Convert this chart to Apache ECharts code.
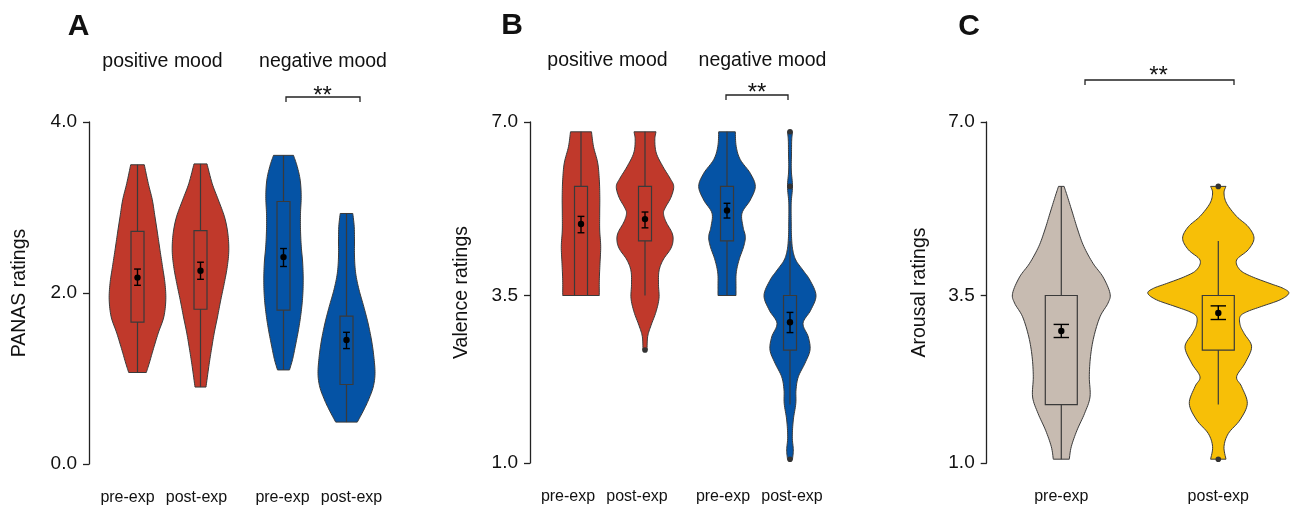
<!DOCTYPE html>
<html><head><meta charset="utf-8">
<script src="https://cdn.jsdelivr.net/npm/echarts@6/dist/echarts.min.js"></script>
<style>html,body{margin:0;padding:0;background:#fff}#c{width:1296px;height:508px}</style>
</head><body><div id="c"></div>
<script>
// ================= DATA =================
const conditions = ['pre-exp', 'post-exp'];
const moodGroups = ['positive mood', 'negative mood'];
const panelLetters = ['A', 'B', 'C'];
const axisNames = ['PANAS ratings', 'Valence ratings', 'Arousal ratings'];
const ticksA = [0, 2, 4];
const tickLabelsA = ['0.0', '2.0', '4.0'];
const ticks7 = [0.93, 4, 7.18];
const tickLabels7 = ['1.0', '3.5', '7.0'];
const sigLabel = '**';

// violin outlines: [rating, density (half-width)] from top to bottom
const kdeA_posPre  = [[3.50,6.8],[3.28,10.8],[3.09,14.8],[2.89,17.5],[2.70,20.0],[2.50,22.5],[2.31,25.0],[2.11,27.5],[1.92,28.3],[1.72,26.3],[1.53,20.7],[1.33,15.5],[1.18,11.8],[1.07,8.8]];
const kdeA_posPost = [[3.51,6.5],[3.28,11.7],[3.09,17.8],[2.89,24.0],[2.70,27.3],[2.50,28.3],[2.31,26.8],[2.11,23.7],[1.92,20.3],[1.72,17.0],[1.53,13.7],[1.33,10.8],[1.14,8.3],[0.90,5.5]];
const kdeA_negPre  = [[3.61,10.0],[3.48,13.7],[3.32,16.7],[3.13,17.7],[2.93,17.0],[2.74,17.0],[2.54,17.8],[2.35,19.2],[2.15,19.7],[1.96,19.2],[1.76,17.5],[1.57,15.0],[1.37,11.7],[1.22,9.0],[1.10,6.0]];
const kdeA_negPost = [[2.93,6.3],[2.78,7.7],[2.62,8.0],[2.42,8.0],[2.23,9.2],[2.04,12.5],[1.84,17.3],[1.65,21.5],[1.45,25.0],[1.26,27.3],[1.06,28.5],[0.90,26.7],[0.75,22.0],[0.63,17.2],[0.49,10.8]];

const kdeB_posPre  = [[7,10.5],[6.73,12.5],[6.43,16.7],[6.12,18.3],[5.81,18.8],[5.51,18.7],[5.20,18.7],[4.90,19.7],[4.59,19.0],[4.28,18.3],[4,18.3]];
const kdeB_posPost = [[7,11],[6.85,9.8],[6.61,11.3],[6.36,18],[6.15,25],[6.0,28.7],[5.8,26],[5.6,20],[5.5,18.5],[5.35,21],[5.15,27],[5.0,28],[4.85,25.5],[4.65,18],[4.45,14],[4.2,13.5],[3.95,14],[3.7,11],[3.45,6],[3.25,2.7],[3.0,2]];
const kdeB_negPre  = [[7,8.3],[6.73,9.2],[6.49,13.3],[6.24,23.3],[6.0,28.3],[5.75,23.3],[5.51,15],[5.26,16],[5.08,18.3],[4.90,16.7],[4.65,12],[4.41,9.2],[4.16,9],[4,9]];
const kdeB_negPost = [[7,2.5],[6.85,1.7],[6.61,1.5],[6.3,1.3],[6.0,2.5],[5.7,1.2],[5.39,1.2],[5.08,1.5],[4.84,2.7],[4.65,5.8],[4.47,12.7],[4.28,20],[4.0,26],[3.73,20.7],[3.49,13],[3.24,18.3],[3.0,20],[2.76,15],[2.51,8.3],[2.27,6],[2.02,5.8],[1.72,3.3],[1.41,2.3],[1.17,3.3],[1.0,2.5]];

const kdeC_pre  = [[6.0,2.8],[5.81,6.2],[5.51,11.3],[5.20,16.5],[4.90,22.5],[4.59,31.7],[4.34,41.7],[4.04,48.7],[3.86,46.7],[3.61,38.7],[3.24,32.5],[2.88,29.2],[2.51,28],[2.14,28.7],[1.84,23.3],[1.53,15.7],[1.23,10],[1.0,8]];
const kdeC_post = [[6.0,7.7],[5.88,5.7],[5.69,8.3],[5.45,18.3],[5.26,30],[5.05,35.7],[4.84,30],[4.65,18.3],[4.47,21.7],[4.35,33],[4.22,51.7],[4.13,65],[4.04,70.5],[3.92,61.7],[3.80,43.3],[3.70,28.3],[3.61,21.7],[3.45,22],[3.30,26],[3.06,33.3],[2.76,26.7],[2.51,18.3],[2.33,23.3],[2.02,29],[1.72,21.7],[1.47,10],[1.23,5.7],[1.0,7.7]];

// box plot: [lower whisker, Q1, Q3, upper whisker]
const boxA_posPre  = [1.07, 1.66, 2.72, 3.50];
const boxA_posPost = [0.90, 1.81, 2.73, 3.51];
const boxA_negPre  = [1.10, 1.80, 3.07, 3.61];
const boxA_negPost = [0.49, 0.93, 1.73, 2.93];
const boxB_posPre  = [4, 4, 6, 7];
const boxB_posPost = [4, 5, 6, 7];
const boxB_negPre  = [4, 5, 6, 7];
const boxB_negPost = [2, 3, 4, 5];
const boxC_pre     = [1, 2, 4, 6];
const boxC_post    = [2, 3, 4, 5];

// mean with error bar: [mean, lower, upper]
const meanA_posPre  = [2.18, 2.09, 2.28];
const meanA_posPost = [2.26, 2.16, 2.36];
const meanA_negPre  = [2.42, 2.31, 2.52];
const meanA_negPost = [1.45, 1.35, 1.54];
const meanB_posPre  = [5.31, 5.15, 5.45];
const meanB_posPost = [5.40, 5.24, 5.53];
const meanB_negPre  = [5.56, 5.42, 5.69];
const meanB_negPost = [3.51, 3.32, 3.69];
const meanC_pre     = [3.35, 3.23, 3.47];
const meanC_post    = [3.68, 3.56, 3.81];

// outliers
const outB_posPost = [3];
const outB_negPost = [7, 6, 1];
const outC_post    = [6, 1];

// ================= STYLE / LAYOUT =================
const FONT = '"Liberation Sans", Arial, Helvetica, sans-serif';
const TXT = '#111';
const EDGE = '#3a3a3a';
const colRed = '#c0392b', colBlue = '#0553a5', colBeige = '#c7bbb1', colYellow = '#f7bf07';

function catmull(pts, steps) {
  const out = [], n = pts.length;
  for (let i = 0; i < n - 1; i++) {
    const p0 = pts[Math.max(i - 1, 0)], p1 = pts[i], p2 = pts[i + 1], p3 = pts[Math.min(i + 2, n - 1)];
    for (let s = 0; s < steps; s++) {
      const t = s / steps, t2 = t * t, t3 = t2 * t;
      const f = k => 0.5 * (2 * p1[k] + (-p0[k] + p2[k]) * t + (2 * p0[k] - 5 * p1[k] + 4 * p2[k] - p3[k]) * t2 + (-p0[k] + 3 * p1[k] - 3 * p2[k] + p3[k]) * t3);
      out.push([f(0), f(1)]);
    }
  }
  out.push(pts[n - 1]);
  return out;
}

function violinRenderer(violins, st) {
  return function (params, api) {
    const v = violins[params.dataIndex];
    const ci = api.value(0);
    const P = val => api.coord([ci, val]);
    const cx = P(v.box[1])[0];
    const L = v.kde.map(d => [cx - d[1] * st.densityPx, P(d[0])[1]]);
    const R = v.kde.map(d => [cx + d[1] * st.densityPx, P(d[0])[1]]);
    const poly = catmull(L, 8).concat(catmull(R, 8).reverse());
    const yLo = P(v.mean[1])[1], yHi = P(v.mean[2])[1];
    const ch = [
      { type: 'polygon', shape: { points: poly }, style: { fill: v.color, stroke: EDGE, lineWidth: 1 } },
      { type: 'line', shape: { x1: cx, y1: P(v.box[0])[1], x2: cx, y2: P(v.box[3])[1] }, style: { stroke: EDGE, lineWidth: 1.2 } },
      { type: 'rect', shape: { x: cx - st.boxHalf, y: P(v.box[2])[1], width: 2 * st.boxHalf, height: P(v.box[1])[1] - P(v.box[2])[1] }, style: { fill: v.color, stroke: EDGE, lineWidth: 1.2 } },
      { type: 'line', shape: { x1: cx, y1: yLo, x2: cx, y2: yHi }, style: { stroke: '#000', lineWidth: 1.4 } },
      { type: 'line', shape: { x1: cx - st.capHalf, y1: yLo, x2: cx + st.capHalf, y2: yLo }, style: { stroke: '#000', lineWidth: 1.4 } },
      { type: 'line', shape: { x1: cx - st.capHalf, y1: yHi, x2: cx + st.capHalf, y2: yHi }, style: { stroke: '#000', lineWidth: 1.4 } },
      { type: 'circle', shape: { cx: cx, cy: P(v.mean[0])[1], r: 3.2 }, style: { fill: '#000' } }
    ];
    (v.out || []).forEach(o => ch.push({ type: 'circle', shape: { cx: cx, cy: P(o)[1], r: 2.8 }, style: { fill: '#333' } }));
    return { type: 'group', children: ch };
  };
}

const violinsA_pos = [
  { kde: kdeA_posPre, box: boxA_posPre, mean: meanA_posPre, color: colRed },
  { kde: kdeA_posPost, box: boxA_posPost, mean: meanA_posPost, color: colRed }];
const violinsA_neg = [
  { kde: kdeA_negPre, box: boxA_negPre, mean: meanA_negPre, color: colBlue },
  { kde: kdeA_negPost, box: boxA_negPost, mean: meanA_negPost, color: colBlue }];
const violinsB_pos = [
  { kde: kdeB_posPre, box: boxB_posPre, mean: meanB_posPre, color: colRed },
  { kde: kdeB_posPost, box: boxB_posPost, mean: meanB_posPost, out: outB_posPost, color: colRed }];
const violinsB_neg = [
  { kde: kdeB_negPre, box: boxB_negPre, mean: meanB_negPre, color: colBlue },
  { kde: kdeB_negPost, box: boxB_negPost, mean: meanB_negPost, out: outB_negPost, color: colBlue }];
const violinsC = [
  { kde: kdeC_pre, box: boxC_pre, mean: meanC_pre, color: colBeige },
  { kde: kdeC_post, box: boxC_post, mean: meanC_post, out: outC_post, color: colYellow }];

const stSmall = { densityPx: 1, boxHalf: 6.5, capHalf: 3.4 };
const stWide = { densityPx: 1, boxHalf: 16, capHalf: 7.7 };

const grids = [
  { left: 137.5, top: 122, width: 63, height: 342 },
  { left: 283.5, top: 122, width: 63, height: 342 },
  { left: 581, top: 122, width: 64, height: 341 },
  { left: 727, top: 122, width: 63, height: 341 },
  { left: 1061.3, top: 122, width: 157, height: 341 }
];
const labelShifts = [[-10, -4], [-1, 5], [-13, -8], [-4, 2], [0, 0]];

function richShift(shifts) {
  const r = {};
  shifts.forEach((s, i) => {
    r['c' + i] = { fontSize: 16, color: TXT, fontFamily: FONT,
      padding: s < 0 ? [0, -2 * s, 0, 0] : [0, 0, 0, 2 * s] };
  });
  return r;
}

const xAxes = grids.map((g, i) => ({
  type: 'category', gridIndex: i, data: conditions, boundaryGap: false,
  axisLine: { show: false }, axisTick: { show: false }, splitLine: { show: false },
  axisLabel: { interval: 0, margin: 26, fontSize: 16, color: TXT, fontFamily: FONT,
    formatter: (val, idx) => '{c' + idx + '|' + val + '}', rich: richShift(labelShifts[i]) }
}));

function visibleY(gridIndex, min, max, ticks, labels, offset, name, nameGap) {
  return {
    type: 'value', gridIndex, min, max, offset,
    name, nameLocation: 'middle', nameGap, nameRotate: 90,
    nameTextStyle: { fontSize: 19.5, color: TXT, fontFamily: FONT },
    axisLine: { show: true, lineStyle: { color: '#222', width: 1.3 } },
    axisTick: { show: true, length: 6, inside: false, customValues: ticks, lineStyle: { color: '#222', width: 1.3 } },
    axisLabel: { show: true, margin: 12, fontSize: 19, color: TXT, fontFamily: FONT, customValues: ticks,
      formatter: v => { const k = ticks.findIndex(t => Math.abs(t - v) < 1e-6); return k >= 0 ? labels[k] : ''; } },
    splitLine: { show: false }
  };
}
function hiddenY(gridIndex, min, max) {
  return { type: 'value', gridIndex, min, max, show: false, splitLine: { show: false } };
}

const yAxes = [
  visibleY(0, 0, 4, ticksA, tickLabelsA, 137.5 - 89, axisNames[0], 59),
  hiddenY(1, 0, 4),
  visibleY(2, ticks7[0], ticks7[2], ticks7, tickLabels7, 581 - 530, axisNames[1], 58),
  hiddenY(3, ticks7[0], ticks7[2]),
  visibleY(4, ticks7[0], ticks7[2], ticks7, tickLabels7, 1061.3 - 986.7, axisNames[2], 57.5)
];

const groupsPerGrid = [violinsA_pos, violinsA_neg, violinsB_pos, violinsB_neg, violinsC];
const series = groupsPerGrid.map((vs, i) => ({
  type: 'custom', xAxisIndex: i, yAxisIndex: i, clip: false,
  encode: { x: 0, y: 1 },
  data: vs.map((v, k) => [k, v.mean[0]]),
  renderItem: violinRenderer(vs, i === 4 ? stWide : stSmall)
}));

function txt(x, y, s, size, weight) {
  return { type: 'text', x, y, style: { text: s, fontSize: size, fontWeight: weight || 'normal', fill: '#111', fontFamily: FONT, textAlign: 'center', textVerticalAlign: 'middle' } };
}
function bracket(x1, x2, y, drop) {
  return { type: 'polyline', shape: { points: [[x1, y + drop], [x1, y], [x2, y], [x2, y + drop]] }, style: { stroke: '#222', lineWidth: 1.3, fill: null } };
}

const graphic = [
  txt(78.5, 27, panelLetters[0], 30, 'bold'),
  txt(512, 26, panelLetters[1], 30, 'bold'),
  txt(969, 27, panelLetters[2], 30, 'bold'),
  txt(162.5, 62, moodGroups[0], 19.5),
  txt(323, 62, moodGroups[1], 19.5),
  txt(607.5, 61, moodGroups[0], 19.5),
  txt(762.5, 61, moodGroups[1], 19.5),
  bracket(286, 360, 97, 5), txt(322.5, 96.5, sigLabel, 24),
  bracket(726, 788, 95, 5), txt(757, 93, sigLabel, 24),
  bracket(1085, 1234, 80, 5), txt(1158.5, 76.5, sigLabel, 24)
];

const chart = echarts.init(document.getElementById('c'), null, { renderer: 'canvas' });
chart.setOption({
  animation: false,
  backgroundColor: '#fff',
  grid: grids,
  xAxis: xAxes,
  yAxis: yAxes,
  series,
  graphic
});
</script></body></html>
